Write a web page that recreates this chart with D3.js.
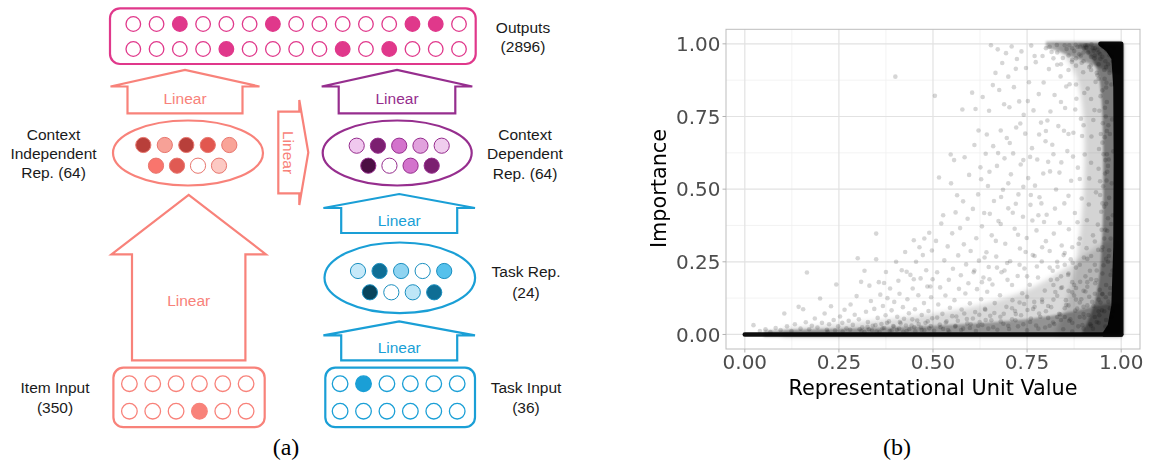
<!DOCTYPE html>
<html>
<head>
<meta charset="utf-8">
<script src="https://cdn.jsdelivr.net/npm/d3@7"></script>
<style>
  body { margin: 0; background: #fff; }
  svg { display: block; }
</style>
</head>
<body>
<svg id="fig" width="1149" height="463"></svg>
<script>
// ---------------- (a) network diagram data ----------------
const outputRow1 = [0,0,1,0,0,0,1,0,0,0,0,0,1,1,0];
const outputRow2 = [0,0,0,0,1,0,0,0,0,1,0,1,0,0,0];
const itemRow1 = [0,0,0,0,0,0];
const itemRow2 = [0,0,0,1,0,0];
const taskRow1 = [0,1,0,0,0,0];
const taskRow2 = [0,0,0,0,0,0];
const ciColors = [["#b83f3a","#f7a197","#b83f3a","#e2574f","#f9a498"], ["#f9756d","#e05a53","#ffffff","#fcc9c3"]];
const cdColors = [["#f0c8ee","#7b1f70","#d373cc","#e1a2dd","#f0cdee"], ["#4b0f43","#ffffff","#d373cc","#7b1f70"]];
const trColors = [["#c6e9f9","#0f6e95","#8fd4f1","#ffffff","#56c1ec"], ["#07455d","#ffffff","#bde6f7","#0f6e95"]];

// ---------------- (b) scatter data: [unit value, importance] ----------------
const lowPoints = [[0.023,0.032],[0.04,0.012],[0.055,0.018],[0.068,0.008],[0.082,0.022],[0.095,0.015],[0.105,0.072],[0.112,0.028],[0.124,0.012],[0.133,0.035],[0.143,0.095],[0.148,0.02],[0.155,0.087],[0.162,0.042],[0.165,0.213],[0.171,0.018],[0.178,0.03],[0.186,0.055],[0.193,0.024],[0.2,0.124],[0.205,0.04],[0.212,0.072],[0.218,0.016],[0.224,0.035],[0.229,0.097],[0.236,0.05],[0.243,0.172],[0.248,0.028],[0.253,0.062],[0.259,0.04],[0.265,0.085],[0.27,0.021],[0.276,0.047],[0.281,0.103],[0.287,0.033],[0.292,0.068],[0.297,0.132],[0.3,0.262],[0.303,0.052],[0.309,0.181],[0.312,0.025],[0.318,0.219],[0.322,0.078],[0.327,0.043],[0.331,0.168],[0.335,0.115],[0.34,0.03],[0.344,0.088],[0.349,0.347],[0.349,0.259],[0.353,0.057],[0.356,0.18],[0.36,0.137],[0.363,0.036],[0.367,0.098],[0.37,0.177],[0.374,0.066],[0.375,0.215],[0.379,0.125],[0.383,0.045],[0.386,0.158],[0.39,0.083],[0.394,0.029],[0.397,0.112],[0.4,0.887],[0.402,0.25],[0.405,0.061],[0.408,0.185],[0.411,0.14],[0.414,0.038],[0.417,0.221],[0.42,0.094],[0.423,0.054],[0.426,0.284],[0.43,0.216],[0.432,0.121],[0.436,0.073],[0.44,0.205],[0.443,0.031],[0.446,0.158],[0.449,0.324],[0.449,0.19],[0.452,0.087],[0.455,0.25],[0.458,0.048],[0.461,0.135],[0.464,0.3],[0.467,0.193],[0.47,0.067],[0.473,0.273],[0.476,0.108],[0.477,0.33],[0.48,0.04],[0.482,0.221],[0.485,0.165],[0.488,0.081],[0.49,0.35],[0.493,0.165],[0.495,0.128],[0.497,0.289],[0.499,0.19],[0.498,0.056],[0.31,0.012],[0.33,0.018],[0.35,0.01],[0.37,0.022],[0.39,0.014],[0.41,0.02],[0.43,0.012],[0.45,0.025],[0.47,0.015],[0.49,0.021],[0.26,0.01],[0.28,0.016],[0.24,0.014],[0.22,0.009]];

const midPoints = [[0.505,0.821],[0.508,0.322],[0.511,0.214],[0.514,0.103],[0.516,0.54],[0.519,0.162],[0.522,0.382],[0.525,0.071],[0.527,0.41],[0.53,0.255],[0.533,0.134],[0.536,0.045],[0.539,0.303],[0.542,0.188],[0.545,0.092],[0.547,0.619],[0.548,0.52],[0.551,0.348],[0.553,0.226],[0.556,0.6],[0.557,0.118],[0.56,0.42],[0.562,0.062],[0.564,0.479],[0.567,0.272],[0.569,0.157],[0.572,0.366],[0.574,0.204],[0.576,0.086],[0.578,0.774],[0.58,0.458],[0.582,0.31],[0.584,0.61],[0.586,0.141],[0.588,0.241],[0.59,0.053],[0.592,0.398],[0.594,0.176],[0.596,0.549],[0.598,0.107],[0.6,0.287],[0.604,0.832],[0.606,0.432],[0.608,0.214],[0.61,0.652],[0.612,0.077],[0.613,0.776],[0.615,0.331],[0.617,0.156],[0.62,0.482],[0.622,0.254],[0.624,0.043],[0.626,0.575],[0.628,0.121],[0.63,0.372],[0.632,0.817],[0.634,0.196],[0.636,0.418],[0.638,0.088],[0.64,0.622],[0.642,0.283],[0.644,0.147],[0.646,0.511],[0.648,0.232],[0.649,0.77],[0.65,0.56],[0.652,0.064],[0.654,0.995],[0.656,0.341],[0.658,0.172],[0.66,0.648],[0.662,0.459],[0.664,0.108],[0.666,0.9],[0.668,0.268],[0.67,0.58],[0.672,0.981],[0.674,0.39],[0.676,0.841],[0.678,0.135],[0.68,0.702],[0.682,0.214],[0.684,0.934],[0.686,0.498],[0.688,0.071],[0.69,0.606],[0.692,0.312],[0.694,0.968],[0.696,0.676],[0.698,0.188],[0.7,0.887],[0.7,0.434],[0.703,0.782],[0.705,0.252],[0.707,0.551],[0.709,0.991],[0.711,0.118],[0.713,0.623],[0.715,0.851],[0.717,0.364],[0.719,0.049],[0.721,0.712],[0.723,0.948],[0.725,0.201],[0.727,0.482],[0.729,0.802],[0.731,0.296],[0.733,0.585],[0.735,0.974],[0.737,0.142],[0.739,0.405],[0.741,0.756],[0.743,0.227],[0.745,0.691],[0.747,0.917],[0.749,0.332],[0.751,0.084],[0.753,0.538],[0.755,0.868],[0.757,0.171],[0.759,0.446],[0.761,0.994],[0.763,0.641],[0.765,0.273],[0.767,0.771],[0.769,0.112],[0.771,0.512],[0.773,0.937],[0.775,0.358],[0.777,0.602],[0.779,0.196],[0.781,0.827],[0.783,0.472],[0.785,0.061],[0.787,0.729],[0.789,0.251],[0.791,0.958],[0.793,0.554],[0.795,0.387],[0.797,0.151],[0.799,0.665],[0.8,0.985],[0.62,0.03],[0.64,0.05],[0.66,0.025],[0.68,0.045],[0.7,0.03],[0.72,0.07],[0.74,0.035],[0.76,0.055],[0.78,0.02],[0.8,0.08],[0.71,0.09],[0.73,0.11],[0.75,0.13],[0.77,0.095],[0.79,0.12],[0.56,0.03],[0.58,0.02],[0.6,0.035],[0.52,0.025],[0.54,0.015]];

const highPoints = [[0.802,0.412],[0.804,0.736],[0.806,0.098],[0.808,0.913],[0.81,0.287],[0.811,0.561],[0.813,0.188],[0.815,0.972],[0.817,0.653],[0.819,0.041],[0.821,0.347],[0.823,0.824],[0.825,0.146],[0.827,0.499],[0.829,0.996],[0.831,0.233],[0.833,0.717],[0.835,0.071],[0.837,0.384],[0.839,0.888],[0.841,0.592],[0.843,0.162],[0.845,0.951],[0.847,0.273],[0.849,0.451],[0.851,0.779],[0.853,0.118],[0.855,0.982],[0.857,0.631],[0.859,0.205],[0.861,0.362],[0.863,0.861],[0.865,0.052],[0.867,0.529],[0.869,0.938],[0.871,0.247],[0.873,0.694],[0.875,0.134],[0.877,0.418],[0.879,0.997],[0.881,0.811],[0.883,0.089],[0.885,0.574],[0.887,0.312],[0.889,0.964],[0.891,0.181],[0.893,0.742],[0.895,0.468],[0.897,0.032],[0.899,0.902],[0.901,0.265],[0.903,0.619],[0.905,0.148],[0.907,0.987],[0.909,0.393],[0.911,0.846],[0.913,0.067],[0.915,0.537],[0.917,0.219],[0.919,0.925],[0.921,0.681],[0.923,0.112],[0.925,0.341],[0.927,0.976],[0.929,0.772],[0.931,0.176],[0.933,0.489],[0.935,0.043],[0.937,0.892],[0.939,0.291],[0.941,0.638],[0.943,0.154],[0.945,0.949],[0.947,0.422],[0.949,0.083],[0.951,0.727],[0.953,0.238],[0.955,0.993],[0.957,0.554],[0.959,0.128],[0.961,0.866],[0.963,0.357],[0.965,0.021],[0.967,0.602],[0.969,0.961],[0.81,0.99],[0.83,0.97],[0.85,0.995],[0.86,0.96],[0.87,0.985],[0.88,0.95],[0.89,0.99],[0.9,0.97],[0.91,0.995],[0.92,0.955],[0.93,0.985],[0.94,0.97],[0.95,0.99],[0.96,0.98],[0.84,0.93],[0.86,0.91],[0.88,0.925],[0.9,0.94],[0.92,0.91],[0.94,0.93],[0.96,0.92],[0.82,0.95],[0.87,0.945],[0.93,0.96],[0.95,0.955],[0.81,0.03],[0.82,0.12],[0.83,0.06],[0.84,0.2],[0.85,0.09],[0.86,0.15],[0.87,0.04],[0.88,0.23],[0.89,0.11],[0.9,0.07],[0.91,0.18],[0.92,0.03],[0.93,0.14],[0.94,0.08],[0.95,0.21],[0.96,0.05],[0.82,0.17],[0.84,0.05],[0.86,0.1],[0.88,0.16],[0.9,0.02],[0.92,0.19],[0.94,0.12],[0.96,0.26],[0.83,0.25],[0.85,0.28],[0.87,0.18],[0.89,0.06],[0.91,0.1],[0.93,0.24],[0.95,0.14],[0.97,0.09],[0.955,0.33],[0.96,0.45],[0.958,0.6],[0.962,0.7],[0.957,0.78],[0.96,0.85],[0.952,0.51],[0.965,0.4],[0.95,0.66],[0.963,0.56],[0.945,0.82],[0.948,0.36],[0.968,0.29],[0.966,0.72]];

const densePoints = [[0.305,0.018],[0.318,0.008],[0.326,0.026],[0.338,0.014],[0.347,0.032],[0.358,0.009],[0.366,0.021],[0.378,0.04],[0.385,0.012],[0.396,0.027],[0.404,0.016],[0.412,0.043],[0.421,0.009],[0.428,0.031],[0.437,0.019],[0.445,0.052],[0.453,0.011],[0.462,0.036],[0.468,0.024],[0.477,0.014],[0.486,0.045],[0.494,0.029],[0.503,0.013],[0.511,0.058],[0.518,0.034],[0.527,0.019],[0.534,0.041],[0.543,0.01],[0.551,0.063],[0.559,0.027],[0.566,0.047],[0.575,0.015],[0.583,0.072],[0.591,0.038],[0.598,0.022],[0.606,0.055],[0.614,0.012],[0.623,0.068],[0.631,0.033],[0.639,0.085],[0.647,0.02],[0.655,0.049],[0.663,0.074],[0.671,0.016],[0.679,0.061],[0.687,0.037],[0.695,0.095],[0.702,0.019],[0.71,0.052],[0.718,0.081],[0.726,0.028],[0.734,0.066],[0.742,0.105],[0.75,0.014],[0.758,0.043],[0.766,0.088],[0.774,0.031],[0.782,0.072],[0.79,0.112],[0.798,0.024],[0.806,0.057],[0.814,0.094],[0.822,0.036],[0.83,0.133],[0.838,0.069],[0.846,0.018],[0.854,0.101],[0.862,0.047],[0.87,0.145],[0.878,0.082],[0.886,0.028],[0.894,0.121],[0.902,0.058],[0.91,0.164],[0.918,0.035],[0.926,0.098],[0.934,0.187],[0.942,0.066],[0.95,0.138],[0.958,0.027],[0.966,0.113],[0.972,0.205],[0.86,0.21],[0.875,0.17],[0.89,0.24],[0.905,0.2],[0.92,0.27],[0.935,0.22],[0.95,0.3],[0.965,0.25],[0.88,0.12],[0.9,0.095],[0.915,0.13],[0.93,0.06],[0.945,0.11],[0.96,0.17],[0.97,0.14],[0.975,0.06],[0.84,0.16],[0.85,0.06],[0.87,0.01],[0.9,0.15],[0.925,0.02],[0.94,0.04],[0.955,0.08],[0.965,0.01],[0.972,0.33],[0.978,0.41],[0.968,0.47],[0.975,0.52],[0.965,0.58],[0.979,0.63],[0.97,0.69],[0.976,0.74],[0.962,0.8],[0.974,0.86],[0.969,0.9],[0.978,0.94],[0.973,0.38],[0.967,0.27],[0.977,0.22],[0.971,0.16],[0.979,0.08],[0.958,0.36],[0.955,0.44],[0.961,0.53],[0.953,0.62],[0.959,0.75],[0.956,0.88],[0.948,0.29],[0.944,0.48],[0.94,0.57],[0.946,0.69],[0.942,0.77],[0.95,0.84],[0.862,0.995],[0.875,0.975],[0.884,0.99],[0.893,0.96],[0.901,0.985],[0.912,0.97],[0.921,0.998],[0.929,0.95],[0.937,0.98],[0.944,0.965],[0.951,0.995],[0.958,0.94],[0.964,0.975],[0.97,0.99],[0.976,0.955],[0.981,0.985],[0.895,0.935],[0.915,0.92],[0.935,0.9],[0.955,0.91],[0.965,0.93],[0.905,0.995],[0.925,0.985],[0.945,0.998]];

const extraPoints = [[0.621,0.702],[0.628,0.534],[0.637,0.265],[0.643,0.688],[0.651,0.415],[0.659,0.858],[0.667,0.322],[0.673,0.624],[0.681,0.473],[0.689,0.792],[0.697,0.246],[0.704,0.659],[0.712,0.419],[0.72,0.914],[0.726,0.343],[0.732,0.726],[0.74,0.508],[0.746,0.284],[0.752,0.803],[0.758,0.611],[0.764,0.392],[0.77,0.958],[0.776,0.234],[0.782,0.688],[0.788,0.451],[0.794,0.867],[0.8,0.321],[0.806,0.594],[0.812,0.767],[0.818,0.219],[0.824,0.433],[0.83,0.928],[0.836,0.557],[0.842,0.306],[0.848,0.701],[0.854,0.853],[0.86,0.477],[0.866,0.259],[0.872,0.612],[0.878,0.774],[0.884,0.386],[0.89,0.535],[0.896,0.683],[0.902,0.831],[0.908,0.297],[0.914,0.447],[0.92,0.591],[0.926,0.738],[0.932,0.869],[0.938,0.378],[0.944,0.527],[0.95,0.451],[0.956,0.679],[0.962,0.62],[0.68,0.38],[0.7,0.52],[0.72,0.45],[0.74,0.6],[0.76,0.48],[0.78,0.41],[0.8,0.7],[0.82,0.62],[0.84,0.8],[0.86,0.69],[0.88,0.86],[0.9,0.72],[0.92,0.81],[0.94,0.88],[0.73,0.24],[0.75,0.2],[0.77,0.27],[0.79,0.3],[0.81,0.23],[0.83,0.19],[0.85,0.24],[0.87,0.3],[0.89,0.33],[0.91,0.26],[0.93,0.32],[0.69,0.22],[0.71,0.17],[0.65,0.19],[0.67,0.23],[0.63,0.18],[0.61,0.22]];

// overplotted regions, read as envelopes: [importance, leftmost unit value]
const coreVertical = [[0,0.955],[0.03,0.97],[0.1,0.98],[0.3,0.985],[0.6,0.986],[0.85,0.985],[0.95,0.98],[0.98,0.965],[1,0.945]];
const haloVertical = [[0,0.9],[0.05,0.92],[0.12,0.94],[0.25,0.955],[0.5,0.96],[0.75,0.958],[0.9,0.95],[0.96,0.925],[1,0.89]];
const fadeVertical = [[0,0.83],[0.1,0.86],[0.25,0.89],[0.5,0.91],[0.75,0.91],[0.9,0.89],[0.97,0.85],[1,0.82]];
// [unit value, top importance]
const coreHorizontal = [[0,0],[1,0]];
const haloHorizontal = [[0.05,0.006],[0.2,0.01],[0.35,0.015],[0.5,0.022],[0.65,0.032],[0.8,0.05],[0.9,0.08],[0.97,0.1],[1,0.1]];
const fadeHorizontal = [[0.1,0.012],[0.25,0.025],[0.4,0.045],[0.55,0.07],[0.65,0.1],[0.75,0.14],[0.83,0.2],[0.9,0.26],[0.96,0.32],[1,0.32]];
// [unit value, lowest importance] of the crowded top edge
const haloTop = [[0.8,0.995],[0.85,0.975],[0.9,0.95],[0.95,0.92],[1,0.9]];

const ticks = [0, 0.25, 0.5, 0.75, 1];
const minorTicks = [0.125, 0.375, 0.625, 0.875];

const svg = d3.select("#fig");
svg.append("rect").attr("width", 1149).attr("height", 463).attr("fill", "#fff");

// ================= (a) =================
const SALMON = "#f8827a", MAGENTA = "#e0388b", PURPLE = "#962e8e", BLUE = "#1a9fd6";
const labelFont = "'Liberation Sans', Arial, Helvetica, sans-serif";
const diag = svg.append("g");

const roundBox = (x0, y0, x1, y1, color) => diag.append("rect")
    .attr("x", x0).attr("y", y0).attr("width", x1 - x0).attr("height", y1 - y0)
    .attr("rx", 10).attr("fill", "#fff").attr("stroke", color).attr("stroke-width", 2.2);

const unitRow = (states, xs, cy, color, r) => diag.append("g").selectAll("circle").data(states).join("circle")
    .attr("cx", (d, i) => xs(i)).attr("cy", cy).attr("r", r)
    .attr("fill", d => d ? color : "#fff").attr("stroke", color).attr("stroke-width", 1.3);

const colourRow = (colors, xs, cy, stroke) => diag.append("g").selectAll("circle").data(colors).join("circle")
    .attr("cx", (d, i) => xs(i)).attr("cy", cy).attr("r", 7.6)
    .attr("fill", d => d).attr("stroke", stroke).attr("stroke-width", 1);

const upArrow = (cx, tipY, headY, bottomY, headHalf, bodyHalf, color, labelY) => {
    const pts = [[cx - headHalf, headY], [cx, tipY], [cx + headHalf, headY], [cx + bodyHalf, headY],
                 [cx + bodyHalf, bottomY], [cx - bodyHalf, bottomY], [cx - bodyHalf, headY]];
    diag.append("polygon").attr("points", pts.map(p => p.join(",")).join(" "))
        .attr("fill", "#fff").attr("stroke", color).attr("stroke-width", 2.2).attr("stroke-linejoin", "miter");
    diag.append("text").attr("x", cx).attr("y", labelY).attr("text-anchor", "middle")
        .attr("dominant-baseline", "central").style("font-family", labelFont).style("font-size", "15.5px")
        .attr("fill", color).text("Linear");
};

const ellipse = (cx, cy, rx, ry, color) => diag.append("ellipse")
    .attr("cx", cx).attr("cy", cy).attr("rx", rx).attr("ry", ry)
    .attr("fill", "#fff").attr("stroke", color).attr("stroke-width", 2.2);

const label = (x, ys, lines) => lines.forEach((t, i) => diag.append("text")
    .attr("x", x).attr("y", ys[i]).attr("text-anchor", "middle").attr("dominant-baseline", "central")
    .style("font-family", labelFont).style("font-size", "15.5px").attr("fill", "#1a1a1a").text(t));

// outputs
roundBox(110, 8.3, 475.7, 64, MAGENTA);
const outX = d3.scaleLinear().domain([0, 14]).range([133.3, 459]);
unitRow(outputRow1, outX, 24, MAGENTA, 7.3);
unitRow(outputRow2, outX, 49, MAGENTA, 7.3);

// arrows to outputs
upArrow(185, 70, 86.5, 113.3, 74.5, 57.5, SALMON, 98);
upArrow(397, 70, 86.5, 113.3, 75.3, 58.3, PURPLE, 98);

// context independent rep.
ellipse(188, 153, 75, 32.5, SALMON);
colourRow(ciColors[0], d3.scaleLinear().domain([0, 4]).range([143.3, 229.3]), 145, "#e8766e");
colourRow(ciColors[1], d3.scaleLinear().domain([0, 3]).range([156, 219]), 165.7, "#e8766e");

// sideways arrow
const sidePts = [[278.3, 111.7], [299.3, 111.7], [299.3, 100], [308.3, 152.5], [299.3, 205], [299.3, 193.3], [278.3, 193.3]];
diag.append("polygon").attr("points", sidePts.map(p => p.join(",")).join(" "))
    .attr("fill", "#fff").attr("stroke", SALMON).attr("stroke-width", 2.2);
diag.append("text").attr("transform", "translate(288.8,152.5) rotate(90)").attr("text-anchor", "middle")
    .attr("dominant-baseline", "central").style("font-family", labelFont).style("font-size", "15.5px")
    .attr("fill", SALMON).text("Linear");

// context dependent rep.
ellipse(397.2, 153, 74.5, 32.5, PURPLE);
colourRow(cdColors[0], d3.scaleLinear().domain([0, 4]).range([356.7, 441.7]), 145.7, PURPLE);
colourRow(cdColors[1], d3.scaleLinear().domain([0, 3]).range([368.3, 431.7]), 165.7, PURPLE);

// task path
upArrow(399.2, 194, 208, 233, 75.8, 58, BLUE, 220);
ellipse(399.8, 277.8, 75.3, 35.3, BLUE);
colourRow(trColors[0], d3.scaleLinear().domain([0, 4]).range([358, 444.2]), 271, "#1a8fc0");
colourRow(trColors[1], d3.scaleLinear().domain([0, 3]).range([369.9, 434.2]), 292.3, "#1a8fc0");
upArrow(399.2, 321.3, 335.4, 360.3, 75.8, 58, BLUE, 347);

// item path
upArrow(188.7, 195, 254.3, 360.3, 77.2, 56.7, SALMON, 300);

// inputs
roundBox(113.4, 367.7, 264.7, 427.2, SALMON);
const itemX = d3.scaleLinear().domain([0, 5]).range([129.4, 246.1]);
unitRow(itemRow1, itemX, 383.7, SALMON, 7.8);
unitRow(itemRow2, itemX, 411.2, SALMON, 7.8);
roundBox(325.3, 367.7, 475, 427.2, BLUE);
const taskX = d3.scaleLinear().domain([0, 5]).range([340.1, 457.2]);
unitRow(taskRow1, taskX, 383.7, BLUE, 7.8);
unitRow(taskRow2, taskX, 411.2, BLUE, 7.8);

// labels
label(523, [27, 46], ["Outputs", "(2896)"]);
label(53.5, [134, 153, 172], ["Context", "Independent", "Rep. (64)"]);
label(525, [134, 153, 173], ["Context", "Dependent", "Rep. (64)"]);
label(526, [271, 292], ["Task Rep.", "(24)"]);
label(55, [387, 407.5], ["Item Input", "(350)"]);
label(526, [387, 407.5], ["Task Input", "(36)"]);

const serif = "'Liberation Serif', 'Times New Roman', serif";
svg.append("text").attr("x", 286).attr("y", 455).attr("text-anchor", "middle")
    .style("font-family", serif).style("font-size", "24px").text("(a)");
svg.append("text").attr("x", 897).attr("y", 455).attr("text-anchor", "middle")
    .style("font-family", serif).style("font-size", "24px").text("(b)");

// ================= (b) =================
const x = d3.scaleLinear().domain([-0.05, 1.05]).range([726, 1140]);
const y = d3.scaleLinear().domain([-0.05, 1.05]).range([349, 29.3]);
const plot = svg.append("g");
const R = 2.3;

const defs = svg.append("defs");
defs.append("clipPath").attr("id", "panel").append("rect")
    .attr("x", 726).attr("y", 29.3).attr("width", 414).attr("height", 319.7);
defs.append("filter").attr("id", "soft").attr("x", "-20%").attr("y", "-20%").attr("width", "140%").attr("height", "140%")
    .append("feGaussianBlur").attr("stdDeviation", 1.2);
defs.append("filter").attr("id", "softer").attr("x", "-20%").attr("y", "-20%").attr("width", "140%").attr("height", "140%")
    .append("feGaussianBlur").attr("stdDeviation", 2.5);

// grid
plot.append("g").selectAll("line").data(minorTicks).join("line").attr("x1", d => x(d)).attr("x2", d => x(d))
    .attr("y1", 29.3).attr("y2", 349).attr("stroke", "#f0f0f0").attr("stroke-width", 0.8);
plot.append("g").selectAll("line").data(minorTicks).join("line").attr("y1", d => y(d)).attr("y2", d => y(d))
    .attr("x1", 726).attr("x2", 1140).attr("stroke", "#f0f0f0").attr("stroke-width", 0.8);
plot.append("g").selectAll("line").data(ticks).join("line").attr("x1", d => x(d)).attr("x2", d => x(d))
    .attr("y1", 29.3).attr("y2", 349).attr("stroke", "#e2e2e2").attr("stroke-width", 1.2);
plot.append("g").selectAll("line").data(ticks).join("line").attr("y1", d => y(d)).attr("y2", d => y(d))
    .attr("x1", 726).attr("x2", 1140).attr("stroke", "#e2e2e2").attr("stroke-width", 1.2);

const marks = plot.append("g").attr("clip-path", "url(#panel)");

const vArea = d3.area().curve(d3.curveBasis).y(d => y(d[0])).x0(d => x(d[1]) - R).x1(x(1) + R);
const hArea = d3.area().curve(d3.curveBasis).x(d => x(d[0])).y0(y(0) + R).y1(d => y(d[1]) - R);
const tArea = d3.area().curve(d3.curveBasis).x(d => x(d[0])).y0(d => y(d[1]) + R).y1(y(1) - R);

const fadeLayer = marks.append("g").attr("filter", "url(#softer)");
fadeLayer.append("path").datum(fadeVertical).attr("d", vArea).attr("fill", "#000").attr("opacity", 0.17);
fadeLayer.append("path").datum(fadeHorizontal).attr("d", hArea).attr("fill", "#000").attr("opacity", 0.15);
const haloLayer = marks.append("g").attr("filter", "url(#soft)");
haloLayer.append("path").datum(haloVertical).attr("d", vArea).attr("fill", "#000").attr("opacity", 0.42);
haloLayer.append("path").datum(haloHorizontal).attr("d", hArea).attr("fill", "#000").attr("opacity", 0.32);
haloLayer.append("path").datum(haloTop).attr("d", tArea).attr("fill", "#000").attr("opacity", 0.3);

const allPoints = lowPoints.concat(midPoints, highPoints, densePoints, extraPoints);
marks.append("g").selectAll("circle").data(allPoints).join("circle")
    .attr("cx", d => x(d[0])).attr("cy", d => y(d[1])).attr("r", R)
    .attr("fill", "#000").attr("fill-opacity", 0.16);

// solid overplotted core: outline stroked by one point radius
const coreLayer = marks.append("g").attr("opacity", 0.94);
coreLayer.append("path").datum(coreVertical)
    .attr("d", d3.area().y(d => y(d[0])).x0(d => x(d[1])).x1(x(1)))
    .attr("fill", "#000").attr("stroke", "#000").attr("stroke-width", 2 * R).attr("stroke-linejoin", "round");
coreLayer.append("path").datum(coreHorizontal)
    .attr("d", d3.line().x(d => x(d[0])).y(d => y(d[1])))
    .attr("fill", "none").attr("stroke", "#000").attr("stroke-width", 2 * R).attr("stroke-linecap", "round");

// panel border
plot.append("rect").attr("x", 726).attr("y", 29.3).attr("width", 414).attr("height", 319.7)
    .attr("fill", "none").attr("stroke", "#bdbdbd").attr("stroke-width", 1);

// ticks and labels
const tickFont = "'DejaVu Sans', Verdana, sans-serif";
plot.append("g").selectAll("line").data(ticks).join("line")
    .attr("x1", 722.5).attr("x2", 726).attr("y1", d => y(d)).attr("y2", d => y(d)).attr("stroke", "#b3b3b3");
plot.append("g").selectAll("line").data(ticks).join("line")
    .attr("y1", 349).attr("y2", 352.5).attr("x1", d => x(d)).attr("x2", d => x(d)).attr("stroke", "#b3b3b3");
plot.append("g").selectAll("text").data(ticks).join("text")
    .attr("x", 720.5).attr("y", d => y(d)).attr("dy", "0.36em").attr("text-anchor", "end")
    .style("font-family", tickFont).style("font-size", "20px").attr("fill", "#4d4d4d").text(d => d3.format(".2f")(d));
plot.append("g").selectAll("text").data(ticks).join("text")
    .attr("x", d => x(d)).attr("y", 369).attr("text-anchor", "middle")
    .style("font-family", tickFont).style("font-size", "20px").attr("fill", "#4d4d4d").text(d => d3.format(".2f")(d));

plot.append("text").attr("x", 933).attr("y", 395).attr("text-anchor", "middle")
    .style("font-family", tickFont).style("font-size", "20.8px").attr("fill", "#000").text("Representational Unit Value");
plot.append("text").attr("transform", "translate(665.5,188.5) rotate(-90)").attr("text-anchor", "middle")
    .style("font-family", tickFont).style("font-size", "20.8px").attr("fill", "#000").text("Importance");
</script>
</body>
</html>
